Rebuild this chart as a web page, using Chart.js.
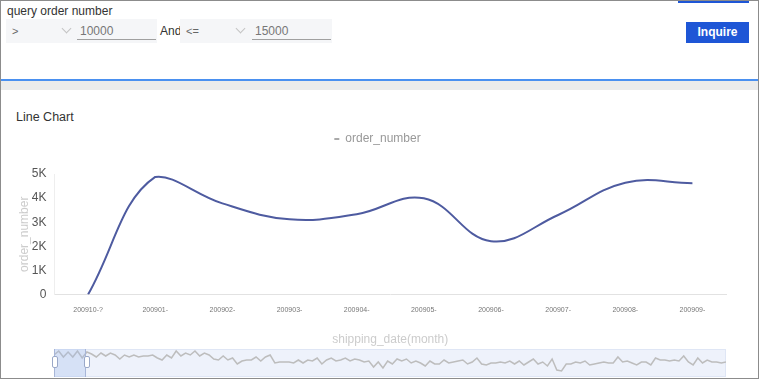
<!DOCTYPE html>
<html>
<head>
<meta charset="utf-8">
<script src="https://cdn.jsdelivr.net/npm/chart.js@4"></script>
<style>
  body { margin: 0; width: 759px; height: 380px; overflow: hidden; background: #fff;
         font-family: "Liberation Sans", Arial, sans-serif; }
  .abs { position: absolute; }
  .frame { left: 0; top: 0; width: 759px; height: 379px; box-sizing: border-box;
           border: 1px solid #8c8c8c; pointer-events: none; z-index: 10; }
  .lbl { font-size: 12px; color: #333; line-height: 14px; }
  .sel { background: #f5f6f8; height: 24px; top: 19px; }
  .sel span { position: absolute; top: 6px; font-size: 11px; color: #666; }
  .sel i { position: absolute; top: 6px; width: 6px; height: 6px; border-right: 1px solid #c4c4c4;
           border-bottom: 1px solid #c4c4c4; transform: rotate(45deg); }
  .inp { top: 21px; height: 19px; border-bottom: 1px solid #a0a0a0; font-size: 12px; color: #777; line-height: 20px; padding-left: 3px; box-sizing: border-box; }
  .btn { left: 686px; top: 22px; width: 63px; height: 21px; background: #1e56d6; color: #fff;
         font-size: 12px; font-weight: bold; text-align: center; line-height: 21px; }
</style>
</head>
<body>
<div class="abs frame"></div>
<div class="abs" style="left:678px;top:0;width:71px;height:3px;background:#1e56d6"></div>

<div class="abs lbl" style="left:7px;top:4px">query order number</div>
<div class="abs sel" style="left:6px;width:151px">
  <span style="left:6px">&gt;</span>
  <i style="left:57px"></i>
</div>
<div class="abs inp" style="left:77px;width:79px">10000</div>
<div class="abs lbl" style="left:160px;top:24px">And</div>
<div class="abs sel" style="left:180px;width:152px">
  <span style="left:6px">&lt;=</span>
  <i style="left:57px"></i>
</div>
<div class="abs inp" style="left:252px;width:79px">15000</div>
<div class="abs btn">Inquire</div>

<div class="abs" style="left:0;top:79px;width:759px;height:2px;background:#4a90f0"></div>
<div class="abs" style="left:0;top:81px;width:759px;height:9px;background:#ebebeb"></div>

<div class="abs lbl" style="left:16px;top:110px;font-size:12.5px">Line Chart</div>

<div class="abs" style="left:0;top:90px;width:757px;height:258px">
  <canvas id="lineChart"></canvas>
</div>

<div class="abs" style="left:54px;top:349px;width:672px;height:28px;background:#eef2fb;box-sizing:border-box;border:1px solid #dfe6f5"></div>
<div class="abs" style="left:54px;top:349px;width:672px;height:28px">
  <canvas id="sliderChart"></canvas>
</div>
<div class="abs" style="left:54px;top:349px;width:32px;height:28px;background:rgba(160,185,235,0.3);box-sizing:border-box;border-left:1px solid #a8b6d8;border-right:1px solid #a8b6d8"></div>
<div class="abs" style="left:52px;top:356px;width:4px;height:10px;background:#fff;border:1px solid #9aa8c8;border-radius:2px"></div>
<div class="abs" style="left:84px;top:356px;width:4px;height:10px;background:#fff;border:1px solid #9aa8c8;border-radius:2px"></div>

<script>
const months = ['200910-?', '200901-', '200902-', '200903-', '200904-', '200905-', '200906-', '200907-', '200908-', '200909-'];
const orderNumber = [0, 4880, 3780, 3120, 3330, 3990, 2210, 3300, 4640, 4620];
const yTicks = [0, 1000, 2000, 3000, 4000, 5000];

// overview series in the zoom slider (relative heights)
const overview = [25, 29, 23, 28, 23, 29, 22, 28, 26, 23, 27, 24, 27, 25, 21, 25, 23, 25, 23, 24,
  24, 25, 22, 20, 25, 22, 29, 24, 27, 25, 29, 24, 27, 25, 21,
  20, 24, 20, 22, 16, 19, 20, 20, 23, 19, 23, 25, 17, 18, 18, 18, 17, 20, 17, 20,
  19, 22, 16, 20, 22, 19, 20, 22, 19, 21, 20, 18, 19, 13,
  18, 12, 19, 16, 21, 19, 21, 17, 19, 17, 14, 19, 16, 16, 20, 17, 18, 19, 20, 16,
  18, 22, 16, 15, 17, 17, 18, 17, 19, 16, 19, 15, 18, 21, 16, 18, 14,
  21, 10, 9, 16, 16, 18, 17, 19, 15, 16, 17, 18, 17, 17, 23, 18, 19, 17, 15, 18,
  18, 15, 22, 20, 20, 19, 20, 19, 24, 18, 15, 22, 17, 20, 18, 18, 17, 18];

const font = "'Liberation Sans', Arial, sans-serif";
const lineColor = '#4e5ba0';

// legend sits a bit lower and to the right, with a gap above the plot
const legendSpace = {
  id: 'legendSpace',
  beforeInit(chart) {
    const fit = chart.legend.fit;
    chart.legend.fit = function () {
      fit.bind(chart.legend)();
      this.height = 51;
    };
  },
  afterLayout(chart) {
    chart.legend.left += 8;
    chart.legend.right += 8;
  }
};

new Chart(document.getElementById('lineChart'), {
  type: 'line',
  data: {
    labels: months,
    datasets: [{
      label: 'order_number',
      data: orderNumber,
      borderColor: lineColor,
      backgroundColor: lineColor,
      borderWidth: 2,
      tension: 0.4,
      pointRadius: 0,
      fill: false
    }]
  },
  options: {
    responsive: true,
    maintainAspectRatio: false,
    animation: false,
    layout: { padding: { top: 33, left: 13, right: 31, bottom: 0 } },
    plugins: {
      legend: {
        position: 'top',
        labels: {
          usePointStyle: true,
          pointStyle: 'line',
          boxWidth: 5,
          boxHeight: 6,
          pointStyleWidth: 5,
          padding: 10,
          color: '#999',
          font: { family: font, size: 12 },
          generateLabels(chart) {
            const items = Chart.defaults.plugins.legend.labels.generateLabels(chart);
            items.forEach(i => { i.lineWidth = 1; i.strokeStyle = '#555'; });
            return items;
          }
        }
      },
      tooltip: { enabled: false }
    },
    scales: {
      x: {
        offset: true,
        grid: { display: false, drawTicks: false },
        border: { display: true, color: '#e2e2e2' },
        ticks: {
          autoSkip: false,
          maxRotation: 0,
          padding: 11,
          color: '#777',
          font: { family: font, size: 7 }
        },
        title: {
          display: true,
          text: 'shipping_date(month)',
          color: '#ccc',
          font: { family: font, size: 12 },
          padding: { top: 0, bottom: 1 }
        },
        afterFit(scale) { scale.height = 53.5; }
      },
      y: {
        min: 0,
        max: 5000,
        grid: { display: false, drawTicks: false },
        border: { display: true, color: '#eeeeee' },
        afterBuildTicks(scale) { scale.ticks = yTicks.map(v => ({ value: v })); },
        ticks: {
          padding: 8,
          color: '#555',
          font: { family: font, size: 12 },
          callback: v => v === 0 ? '0' : (v / 1000) + 'K'
        },
        title: {
          display: true,
          text: 'order_number',
          color: '#ccc',
          font: { family: font, size: 12 },
          padding: { top: 4, bottom: 0 }
        },
        afterFit(scale) { scale.width = 41.5; }
      }
    }
  },
  plugins: [legendSpace]
});

new Chart(document.getElementById('sliderChart'), {
  type: 'line',
  data: {
    labels: overview.map((v, i) => i),
    datasets: [{
      data: overview,
      borderColor: '#bdbdbd',
      borderWidth: 1.5,
      pointRadius: 0,
      tension: 0,
      fill: false
    }]
  },
  options: {
    responsive: true,
    maintainAspectRatio: false,
    animation: false,
    layout: { padding: 0 },
    plugins: { legend: { display: false }, tooltip: { enabled: false } },
    scales: {
      x: { display: false },
      y: { display: false, min: 3, max: 31 }
    }
  }
});
</script>
</body>
</html>
